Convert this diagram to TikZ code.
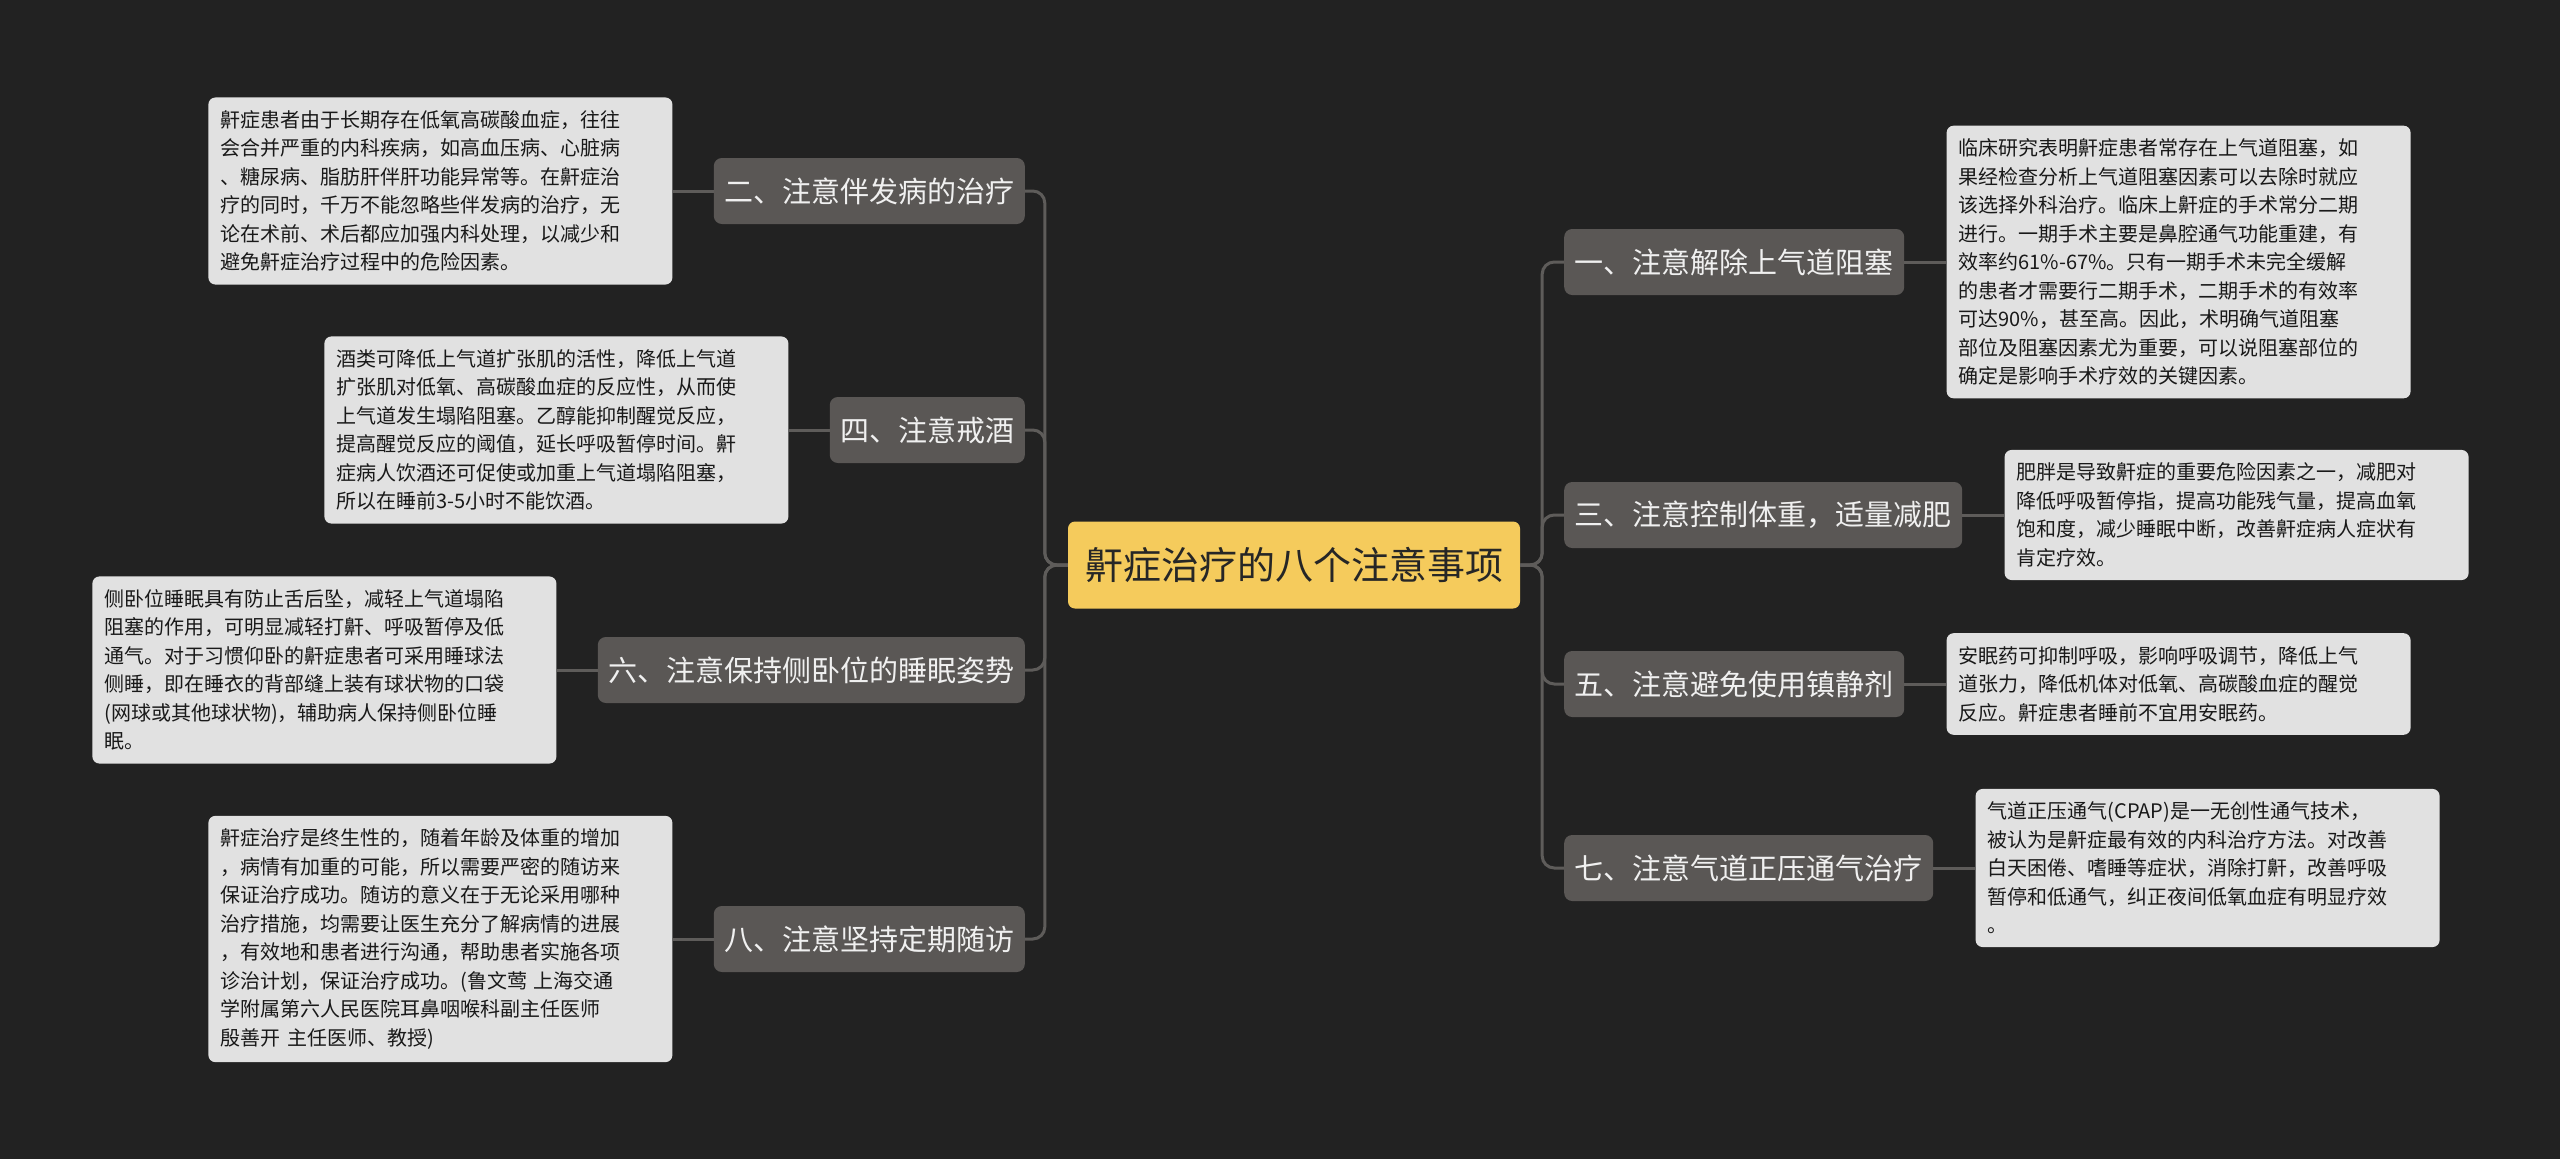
\documentclass[tikz,border=0pt]{standalone}
\usepackage{fontspec}
\setmainfont{Noto Sans CJK SC}
\usetikzlibrary{positioning}
\definecolor{BgDark}{HTML}{222222}
\definecolor{RootYellow}{HTML}{F5CB5C}
\definecolor{TopicGray}{HTML}{5A5755}
\definecolor{NoteGray}{HTML}{E1E1E1}
\definecolor{LinkGray}{HTML}{5E5C5A}

\begin{document}
\begin{tikzpicture}[x=1pt, y=-1pt,
    root/.style={fill=RootYellow, text=black!85, rounded corners=7pt, minimum width=452pt, minimum height=87pt, inner sep=0pt, font=\fontsize{38}{46}\selectfont},
    topic/.style={fill=TopicGray, text=white!94!black, rounded corners=8pt, minimum height=66pt, inner xsep=10.5pt, inner ysep=0pt, font=\fontsize{29}{35}\selectfont},
    note/.style={fill=NoteGray, text=black!90, rounded corners=7pt, inner xsep=12pt, inner ysep=13pt, text width=440pt, align=left, font=\fontsize{20}{28.5}\selectfont},
    link/.style={draw=LinkGray, line width=3pt, rounded corners=12pt}]

    \useasboundingbox (0,0) rectangle (2560,1159);
    \fill[BgDark] (0,0) rectangle (2560,1159);

    % Root
    \node[root] (root) at (1294,565) {鼾症治疗的八个注意事项};

    % Left topics
    \node[topic, anchor=east] (t2) at (1025,191) {二、注意伴发病的治疗};
    \node[topic, anchor=east] (t4) at (1025,430) {四、注意戒酒};
    \node[topic, anchor=east] (t6) at (1025,670) {六、注意保持侧卧位的睡眠姿势};
    \node[topic, anchor=east] (t8) at (1025,939) {八、注意坚持定期随访};

    % Right topics
    \node[topic, anchor=west] (t1) at (1564,262) {一、注意解除上气道阻塞};
    \node[topic, anchor=west] (t3) at (1564,515) {三、注意控制体重，适量减肥};
    \node[topic, anchor=west] (t5) at (1564,684) {五、注意避免使用镇静剂};
    \node[topic, anchor=west] (t7) at (1564,868) {七、注意气道正压通气治疗};

    % Notes, left
    \node[note, left=41pt of t2] (n2) {鼾症患者由于长期存在低氧高碳酸血症，往往\\
        会合并严重的内科疾病，如高血压病、心脏病\\
        、糖尿病、脂肪肝伴肝功能异常等。在鼾症治\\
        疗的同时，千万不能忽略些伴发病的治疗，无\\
        论在术前、术后都应加强内科处理，以减少和\\
        避免鼾症治疗过程中的危险因素。};
    \node[note, left=41pt of t4] (n4) {酒类可降低上气道扩张肌的活性，降低上气道\\
        扩张肌对低氧、高碳酸血症的反应性，从而使\\
        上气道发生塌陷阻塞。乙醇能抑制醒觉反应，\\
        提高醒觉反应的阈值，延长呼吸暂停时间。鼾\\
        症病人饮酒还可促使或加重上气道塌陷阻塞，\\
        所以在睡前3-5小时不能饮酒。};
    \node[note, left=41pt of t6] (n6) {侧卧位睡眠具有防止舌后坠，减轻上气道塌陷\\
        阻塞的作用，可明显减轻打鼾、呼吸暂停及低\\
        通气。对于习惯仰卧的鼾症患者可采用睡球法\\
        侧睡，即在睡衣的背部缝上装有球状物的口袋\\
        (网球或其他球状物)，辅助病人保持侧卧位睡\\
        眠。};
    \node[note, left=41pt of t8] (n8) {鼾症治疗是终生性的，随着年龄及体重的增加\\
        ，病情有加重的可能，所以需要严密的随访来\\
        保证治疗成功。随访的意义在于无论采用哪种\\
        治疗措施，均需要让医生充分了解病情的进展\\
        ，有效地和患者进行沟通，帮助患者实施各项\\
        诊治计划，保证治疗成功。(鲁文莺 上海交通\\
        学附属第六人民医院耳鼻咽喉科副主任医师\\
        殷善开 主任医师、教授)};

    % Notes, right
    \node[note, right=42pt of t1] (n1) {临床研究表明鼾症患者常存在上气道阻塞，如\\
        果经检查分析上气道阻塞因素可以去除时就应\\
        该选择外科治疗。临床上鼾症的手术常分二期\\
        进行。一期手术主要是鼻腔通气功能重建，有\\
        效率约61\%-67\%。只有一期手术未完全缓解\\
        的患者才需要行二期手术，二期手术的有效率\\
        可达90\%，甚至高。因此，术明确气道阻塞\\
        部位及阻塞因素尤为重要，可以说阻塞部位的\\
        确定是影响手术疗效的关键因素。};
    \node[note, right=42pt of t3] (n3) {肥胖是导致鼾症的重要危险因素之一，减肥对\\
        降低呼吸暂停指，提高功能残气量，提高血氧\\
        饱和度，减少睡眠中断，改善鼾症病人症状有\\
        肯定疗效。};
    \node[note, right=42pt of t5] (n5) {安眠药可抑制呼吸，影响呼吸调节，降低上气\\
        道张力，降低机体对低氧、高碳酸血症的醒觉\\
        反应。鼾症患者睡前不宜用安眠药。};
    \node[note, right=42pt of t7] (n7) {气道正压通气(CPAP)是一无创性通气技术，\\
        被认为是鼾症最有效的内科治疗方法。对改善\\
        白天困倦、嗜睡等症状，消除打鼾，改善呼吸\\
        暂停和低通气，纠正夜间低氧血症有明显疗效\\
        。};

    % Links
    \foreach \t in {t2,t4,t6,t8}
        \draw[link] (root.west) -- ++(-23,0) |- (\t.east);
    \foreach \t in {t1,t3,t5,t7}
        \draw[link] (root.east) -- ++(22,0) |- (\t.west);
    \foreach \t/\n in {t2/n2,t4/n4,t6/n6,t8/n8}
        \draw[link] (\t.west) -- (\n.east);
    \foreach \t/\n in {t1/n1,t3/n3,t5/n5,t7/n7}
        \draw[link] (\t.east) -- (\n.west);
\end{tikzpicture}
\end{document}
